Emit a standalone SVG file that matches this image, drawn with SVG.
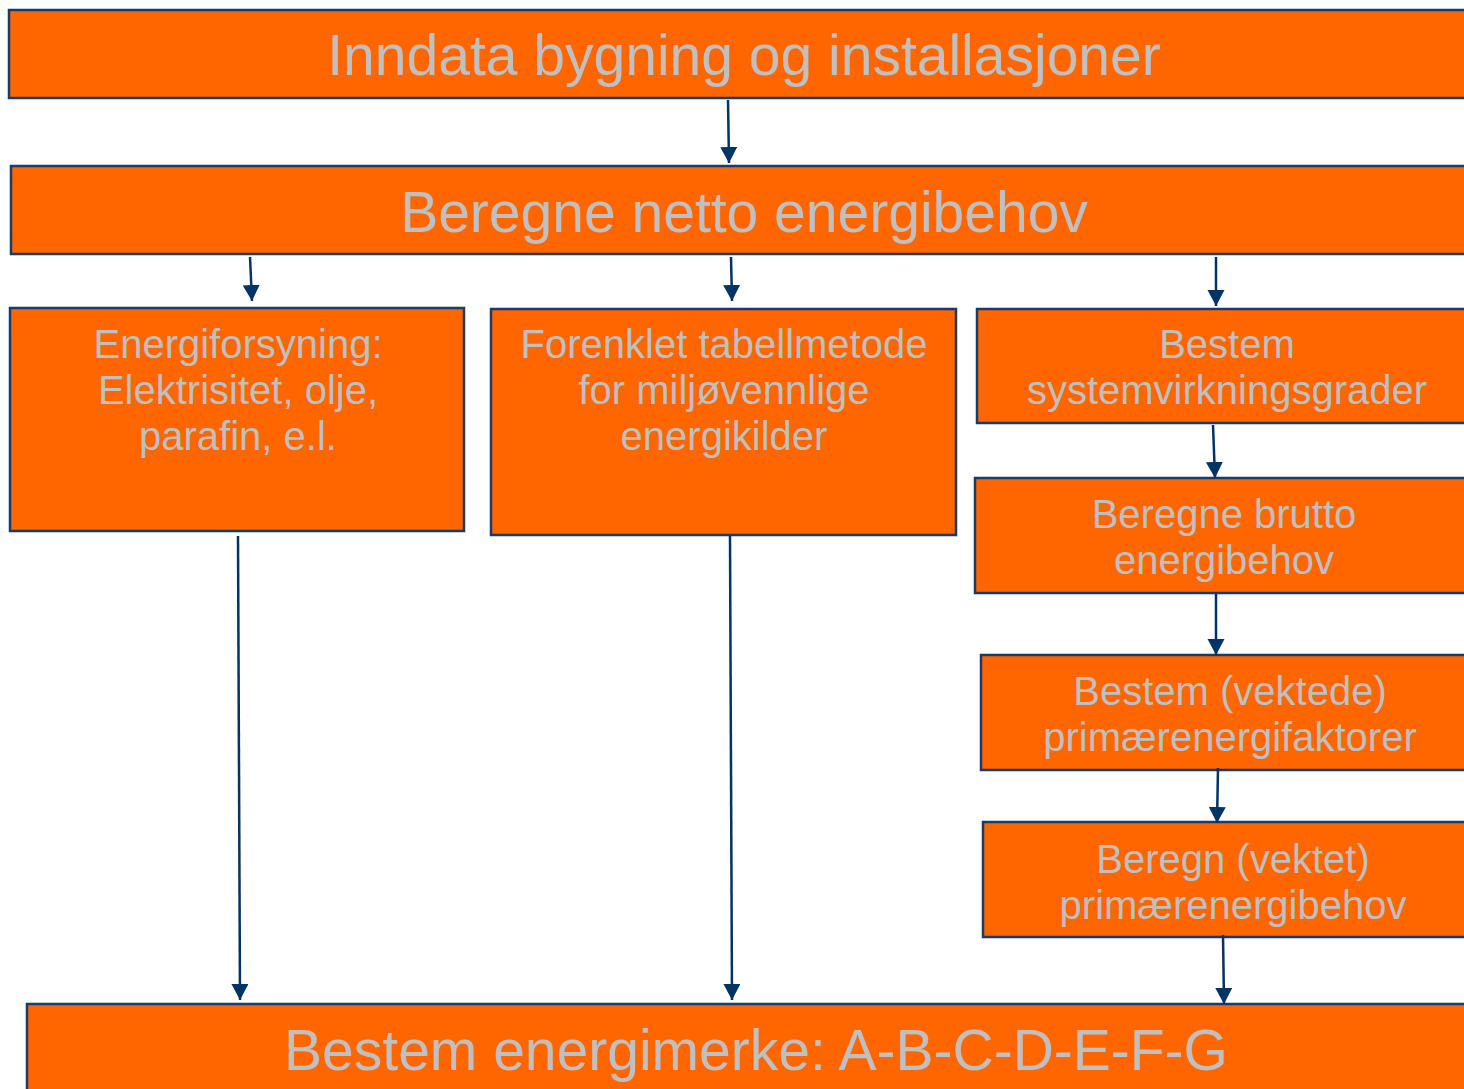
<svg xmlns="http://www.w3.org/2000/svg" width="1464" height="1089" viewBox="0 0 1464 1089">
<style>
.box{fill:#ff6600;stroke:#1a3a6a;stroke-width:2.5}
.t{font-family:"Liberation Sans",Arial,sans-serif;fill:#c0c0c0;text-anchor:middle}
.big{font-size:57px}
.mid{font-size:40px}
.c{stroke:#003366;stroke-width:2.5;fill:none;marker-end:url(#ah)}
</style>
<defs>
<marker id="ah" markerWidth="8" markerHeight="8" refX="6.4" refY="3.4" orient="auto" markerUnits="strokeWidth">
<path d="M0,0 L6.4,3.4 L0,6.8 z" fill="#003366"/>
</marker>
</defs>
<rect width="1464" height="1089" fill="#ffffff"/>
<g id="n1"><rect class="box" x="9" y="10" width="1470" height="88"/><text class="t big" x="744" y="75">Inndata bygning og installasjoner</text></g>
<g id="n2"><rect class="box" x="11" y="166" width="1470" height="88"/><text class="t big" x="744" y="232">Beregne netto energibehov</text></g>
<g id="n3"><rect class="box" x="10" y="308" width="454" height="223"/><text class="t mid" x="238" y="358">Energiforsyning:</text><text class="t mid" x="238" y="404">Elektrisitet, olje,</text><text class="t mid" x="238" y="450">parafin, e.l.</text></g>
<g id="n4"><rect class="box" x="491" y="309" width="465" height="226"/><text class="t mid" x="724" y="358">Forenklet tabellmetode</text><text class="t mid" x="724" y="404">for miljøvennlige</text><text class="t mid" x="724" y="450">energikilder</text></g>
<g id="n5"><rect class="box" x="977" y="309" width="500" height="114"/><text class="t mid" x="1227" y="358">Bestem</text><text class="t mid" x="1227" y="404">systemvirkningsgrader</text></g>
<g id="n6"><rect class="box" x="975" y="478" width="500" height="115"/><text class="t mid" x="1224" y="528">Beregne brutto</text><text class="t mid" x="1224" y="574">energibehov</text></g>
<g id="n7"><rect class="box" x="981" y="655" width="500" height="115"/><text class="t mid" x="1230" y="705">Bestem (vektede)</text><text class="t mid" x="1230" y="751">primærenergifaktorer</text></g>
<g id="n8"><rect class="box" x="983" y="822" width="500" height="115"/><text class="t mid" x="1233" y="873">Beregn (vektet)</text><text class="t mid" x="1233" y="919">primærenergibehov</text></g>
<g id="n9"><rect class="box" x="27" y="1004" width="1460" height="100"/><text class="t big" x="756" y="1070">Bestem energimerke: A-B-C-D-E-F-G</text></g>
<g id="connectors">
<path class="c" d="M728,100 L729,163"/>
<path class="c" d="M250,257 L252,301"/>
<path class="c" d="M731,257 L732,301"/>
<path class="c" d="M1216,257 L1216,306"/>
<path class="c" d="M1213,425 L1215,478"/>
<path class="c" d="M1216,594 L1216,655"/>
<path class="c" d="M1218,768 L1217,823"/>
<path class="c" d="M238,536 L240,1000"/>
<path class="c" d="M730,536 L732,1000"/>
<path class="c" d="M1223,935 L1224,1004"/>
</g>
</svg>
